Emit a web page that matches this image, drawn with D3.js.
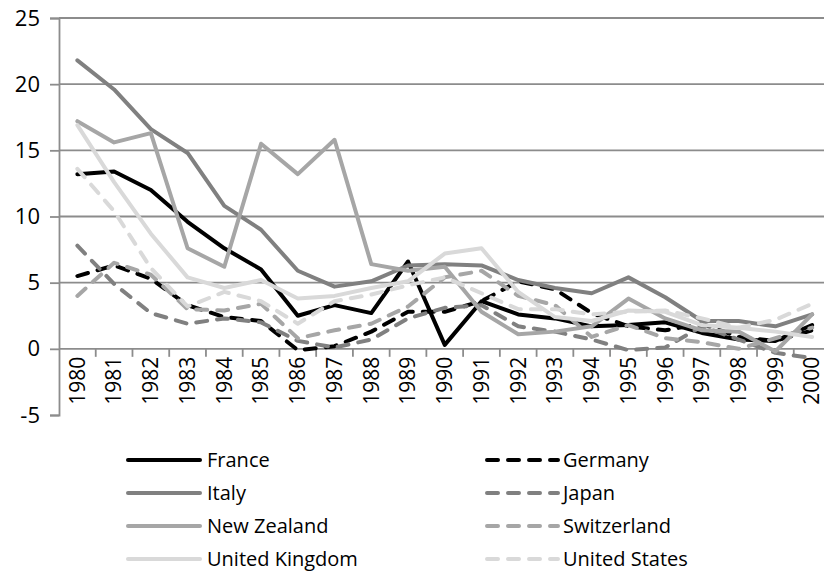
<!DOCTYPE html>
<html>
<head>
<meta charset="utf-8">
<script src="https://cdn.jsdelivr.net/npm/d3@7/dist/d3.min.js"></script>
<style>
  html, body { margin: 0; padding: 0; background: #fff; }
  svg { display: block; }
  text { font-family: "Open Sans", "Liberation Sans", sans-serif; fill: #000; }
</style>
</head>
<body>
<svg id="chart" width="824" height="578"></svg>
<script>
const years = ["1980","1981","1982","1983","1984","1985","1986","1987","1988","1989","1990",
               "1991","1992","1993","1994","1995","1996","1997","1998","1999","2000"];
const yTicks = [-5, 0, 5, 10, 15, 20, 25];
const seriesNames = ["France","Germany","Italy","Japan","New Zealand","Switzerland","United Kingdom","United States"];

const france      = [13.2, 13.4, 12.0, 9.6, 7.6, 6.0, 2.5, 3.3, 2.7, 6.6, 0.3, 3.6, 2.6, 2.3, 1.7, 1.8, 2.0, 1.2, 0.7, 0.6, 1.8];
const germany     = [5.5, 6.3, 5.3, 3.3, 2.4, 2.1, -0.1, 0.2, 1.3, 2.8, 2.8, 3.6, 5.1, 4.5, 2.7, 1.7, 1.4, 1.9, 0.9, 0.6, 1.4];
const italy       = [21.8, 19.6, 16.6, 14.8, 10.8, 9.0, 5.9, 4.7, 5.1, 6.3, 6.4, 6.3, 5.2, 4.6, 4.2, 5.4, 3.9, 2.1, 2.1, 1.7, 2.6];
const japan       = [7.8, 4.9, 2.7, 1.9, 2.3, 2.0, 0.6, 0.1, 0.7, 2.3, 3.1, 3.3, 1.7, 1.3, 0.7, -0.1, 0.1, 1.7, 0.7, -0.3, -0.7];
const newZealand  = [17.2, 15.6, 16.3, 7.6, 6.2, 15.5, 13.2, 15.8, 6.4, 5.9, 6.2, 2.8, 1.1, 1.3, 1.7, 3.8, 2.3, 1.4, 1.3, -0.2, 2.6];
const switzerland = [4.0, 6.5, 5.6, 3.0, 2.9, 3.4, 0.8, 1.4, 1.9, 3.2, 5.4, 5.9, 4.0, 3.3, 0.9, 1.8, 0.8, 0.5, 0.0, 0.8, 1.6];
const unitedKingdom = [16.9, 12.6, 8.7, 5.4, 4.6, 5.2, 3.8, 4.0, 4.6, 5.1, 7.2, 7.6, 4.3, 2.4, 2.1, 2.9, 2.8, 1.8, 1.6, 1.3, 0.9];
const unitedStates  = [13.6, 10.4, 6.1, 3.2, 4.3, 3.6, 1.9, 3.6, 4.1, 4.8, 5.4, 4.2, 3.0, 3.0, 2.6, 2.8, 2.9, 2.3, 1.6, 2.2, 3.4];

const seriesValues = [france, germany, italy, japan, newZealand, switzerland, unitedKingdom, unitedStates];
const seriesColors = ["#000000","#000000","#808080","#808080","#a6a6a6","#a6a6a6","#d9d9d9","#d9d9d9"];
const seriesDashed = [false, true, false, true, false, true, false, true];

const svg = d3.select("#chart");
const plotLeft = 59, plotRight = 830.5, plotTop = 18, plotBottom = 415;

const x = d3.scaleBand().domain(years).range([plotLeft, plotRight]).padding(0);
const y = d3.scaleLinear().domain([-5, 25]).range([plotBottom, plotTop]);
const cx = d => x(d) + x.bandwidth() / 2;

const gridColor = "#8c8c8c";
const dashPattern = "11,10";

// gridlines (0..25)
svg.append("g").selectAll("line")
  .data(yTicks.filter(t => t >= 0))
  .join("line")
  .attr("x1", plotLeft).attr("x2", 824)
  .attr("y1", d => y(d)).attr("y2", d => y(d))
  .attr("stroke", gridColor).attr("stroke-width", 1.8);

// y axis
const yAxis = d3.axisLeft(y).tickValues(yTicks).tickSize(9).tickPadding(10).tickFormat(d => String(d));
const gy = svg.append("g").attr("transform", `translate(${plotLeft},0)`).call(yAxis);
gy.select(".domain").attr("stroke", gridColor).attr("stroke-width", 1.8);
gy.selectAll(".tick line").attr("stroke", gridColor).attr("stroke-width", 1.8);
gy.selectAll(".tick text").style("font-size", "22px").attr("fill", "#000")
  .style("font-family", "'Open Sans', sans-serif");

// x axis at y=0 with ticks between categories
const boundaries = years.slice(1).map(d => x(d));
svg.append("g").selectAll("line")
  .data(boundaries)
  .join("line")
  .attr("x1", d => d).attr("x2", d => d)
  .attr("y1", y(0)).attr("y2", y(0) + 8)
  .attr("stroke", gridColor).attr("stroke-width", 1.8);

svg.append("g").selectAll("text")
  .data(years)
  .join("text")
  .attr("transform", d => `translate(${cx(d)},${y(0) + 8}) rotate(-90)`)
  .attr("text-anchor", "end")
  .attr("dy", "0.35em")
  .style("font-size", "21px")
  .text(d => d);

// series lines
const line = d3.line().x((v, i) => cx(years[i])).y(v => y(v));
const g = svg.append("g");
seriesValues.forEach((vals, k) => {
  g.append("path")
    .datum(vals)
    .attr("d", line)
    .attr("fill", "none")
    .attr("stroke", seriesColors[k])
    .attr("stroke-width", 4)
    .attr("stroke-linejoin", "round")
    .attr("stroke-linecap", "round")
    .attr("stroke-dasharray", seriesDashed[k] ? dashPattern : null);
});

// legend
const legendRows = [460, 493, 526, 559];
const legendCols = [{x1: 128, x2: 200, tx: 207}, {x1: 487, x2: 558, tx: 563}];
const lg = svg.append("g");
seriesNames.forEach((name, k) => {
  const col = legendCols[k % 2];
  const ry = legendRows[Math.floor(k / 2)];
  lg.append("line")
    .attr("x1", col.x1).attr("x2", col.x2)
    .attr("y1", ry).attr("y2", ry)
    .attr("stroke", seriesColors[k]).attr("stroke-width", 4)
    .attr("stroke-linecap", "round")
    .attr("stroke-dasharray", seriesDashed[k] ? dashPattern : null);
  lg.append("text")
    .attr("x", col.tx).attr("y", ry)
    .attr("dy", "0.35em")
    .style("font-size", "20px")
    .text(name);
});
</script>
</body>
</html>
